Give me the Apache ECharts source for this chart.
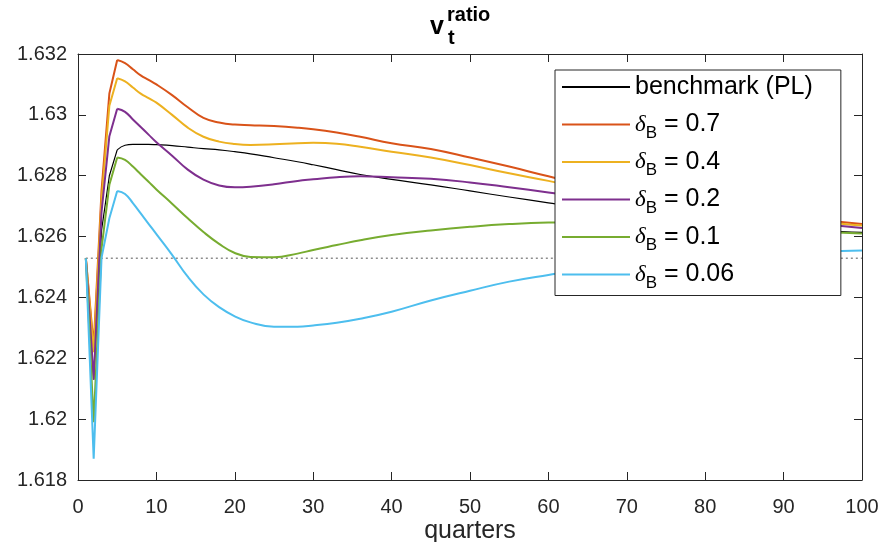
<!DOCTYPE html>
<html><head><meta charset="utf-8">
<script src="https://cdn.jsdelivr.net/npm/echarts/dist/echarts.min.js"></script>
<style>html,body{margin:0;padding:0;background:#fff}#c{width:884px;height:542px}</style>
</head><body><div id="c"></div>
<script>
// sample quarters (x positions of read values)
const quarters = [1,2,3,4,5,6,7,8,9,10,12,14,16,18,20,22,25,28,30,33,36,40,45,50,55,60,65,70,75,80,85,90,95,100];
const benchmark = [1.62529,1.6213,1.6262,1.6280,1.62885,1.62900,1.62903,1.62903,1.62903,1.62902,1.62899,1.62894,1.62889,1.62885,1.62879,1.62872,1.62859,1.62846,1.62836,1.62820,1.62804,1.62788,1.62770,1.62750,1.62730,1.62711,1.62693,1.62677,1.62662,1.62650,1.62638,1.62628,1.62620,1.62614];
const deltaB07 = [1.62529,1.6224,1.6275,1.6307,1.6318,1.6317,1.6315,1.6313,1.63115,1.6310,1.63065,1.63025,1.6299,1.62975,1.62968,1.62966,1.62963,1.62958,1.62953,1.62942,1.62928,1.62907,1.62888,1.6286,1.6283,1.62798,1.62768,1.62742,1.6272,1.62702,1.62685,1.62668,1.62654,1.62641];
const deltaB04 = [1.62529,1.6222,1.6272,1.6303,1.6312,1.6311,1.6309,1.6307,1.63055,1.6304,1.63,1.62958,1.62928,1.62912,1.62904,1.62901,1.62903,1.62907,1.62908,1.62905,1.62895,1.62879,1.6286,1.62835,1.62808,1.62783,1.62755,1.6273,1.6271,1.62692,1.62677,1.62662,1.62648,1.62636];
const deltaB02 = [1.62529,1.6213,1.6268,1.6293,1.6302,1.6301,1.62985,1.6296,1.62935,1.6291,1.62866,1.6282,1.62787,1.62768,1.62762,1.62764,1.62772,1.62783,1.62788,1.62795,1.62798,1.62795,1.6279,1.62778,1.62762,1.62745,1.62728,1.62712,1.62697,1.62684,1.6267,1.62655,1.62641,1.62628];
const deltaB01 = [1.62529,1.6199,1.6256,1.6277,1.6286,1.62852,1.6283,1.62805,1.6278,1.62755,1.62708,1.6266,1.62615,1.62576,1.62546,1.62533,1.62532,1.62544,1.62556,1.62572,1.62588,1.62605,1.6262,1.62632,1.62641,1.62646,1.62647,1.62645,1.6264,1.62634,1.62628,1.62621,1.62615,1.6261];
const deltaB006 = [1.62529,1.6187,1.6253,1.6266,1.6275,1.6274,1.6271,1.62676,1.62642,1.62608,1.6254,1.62468,1.6241,1.62368,1.62338,1.62318,1.62304,1.62304,1.62308,1.62317,1.6233,1.62353,1.6239,1.62422,1.62452,1.62474,1.62494,1.6251,1.62522,1.62532,1.6254,1.62547,1.62551,1.62554];
const steadyState = 1.62529;
const baselineX = [1, 100];
const seriesNames = ['benchmark (PL)', 'δB = 0.7', 'δB = 0.4', 'δB = 0.2', 'δB = 0.1', 'δB = 0.06'];
const deltaLabels = ['', '0.7', '0.4', '0.2', '0.1', '0.06'];
const seriesColors = ['#000000', '#D95319', '#EDB120', '#7E2F8E', '#77AC30', '#4DBEEE'];
const xTicks = [0,10,20,30,40,50,60,70,80,90,100];
const yTicks = [1.618,1.62,1.622,1.624,1.626,1.628,1.63,1.632];
const peakQuarter = 5; // sharp corner: impact phase drawn straight, recovery drawn smooth

const FONT = '"Liberation Sans", Arial, sans-serif';
const AX = '#262626';
const seriesValues = [benchmark, deltaB07, deltaB04, deltaB02, deltaB01, deltaB006];

const chart = echarts.init(document.getElementById('c'), null, {renderer: 'canvas'});

const lineSeries = [];
seriesValues.forEach((vals, i) => {
  const pts = quarters.map((q, k) => [q, vals[k]]);
  const base = {
    name: seriesNames[i], type: 'line', xAxisIndex: 0, yAxisIndex: 0,
    symbol: 'none', silent: true, animation: false,
    lineStyle: {color: seriesColors[i], width: i === 0 ? 1.2 : 2},
    itemStyle: {color: seriesColors[i]},
    emphasis: {disabled: true}, z: 2, zlevel: 0
  };
  lineSeries.push(Object.assign({}, base, {data: pts.filter(p => p[0] <= peakQuarter)}));
  lineSeries.push(Object.assign({}, base, {data: pts.filter(p => p[0] >= peakQuarter), smooth: 0.45}));
});

const dotted = {
  name: 'steady state', type: 'line', xAxisIndex: 0, yAxisIndex: 0,
  data: baselineX.map(x => [x, steadyState]),
  symbol: 'none', silent: true, animation: false,
  lineStyle: {color: '#555', width: 1, type: [2, 3]},
  emphasis: {disabled: true}, z: 1
};

const axisCommon = {
  type: 'value',
  axisLine: {show: true, onZero: false, lineStyle: {color: AX, width: 1}},
  axisTick: {show: true, inside: true, length: 8, lineStyle: {color: AX, width: 1}},
  splitLine: {show: false}
};

chart.setOption({
  backgroundColor: '#fff',
  animation: false,
  grid: {left: 78, right: 22, top: 54, bottom: 62, containLabel: false, outerBoundsMode: 'none'},
  xAxis: [
    Object.assign({}, axisCommon, {
      position: 'bottom', min: xTicks[0], max: xTicks[xTicks.length - 1], interval: 10,
      axisLabel: {fontSize: 20, color: AX, fontFamily: FONT, margin: 17, showMinLabel: true, showMaxLabel: true},
      name: 'quarters', nameLocation: 'middle', nameGap: 39, nameMoveOverlap: false,
      nameTextStyle: {fontSize: 25, color: AX, fontFamily: FONT}
    }),
    Object.assign({}, axisCommon, {
      position: 'top', min: xTicks[0], max: xTicks[xTicks.length - 1], interval: 10,
      axisLabel: {show: false}
    })
  ],
  yAxis: [
    Object.assign({}, axisCommon, {
      position: 'left', min: yTicks[0], max: yTicks[yTicks.length - 1], interval: 0.002,
      axisLabel: {fontSize: 20, color: AX, fontFamily: FONT, margin: 11,
        formatter: v => String(+v.toFixed(3)), showMinLabel: true, showMaxLabel: true}
    }),
    Object.assign({}, axisCommon, {
      position: 'right', min: yTicks[0], max: yTicks[yTicks.length - 1], interval: 0.002,
      axisLabel: {show: false}
    })
  ],
  legend: {
    data: seriesNames.map(n => ({name: n, icon: 'rect'})),
    orient: 'vertical', left: 555, top: 70, z: 20, zlevel: 0,
    itemWidth: 68, itemHeight: 2, itemGap: 3.5,
    padding: [0, 28, 4, 7],
    backgroundColor: '#fff', borderColor: AX, borderWidth: 1, borderRadius: 0,
    selectedMode: false,
    formatter: function (name) {
      const i = seriesNames.indexOf(name);
      if (i === 0) return '{n|' + name + '}';
      return '{d|δ}{s|B}{n| = ' + deltaLabels[i] + '}';
    },
    textStyle: {
      color: '#000', fontFamily: FONT, fontSize: 25, lineHeight: 34,
      rich: {
        n: {fontSize: 25, fontFamily: FONT, color: '#000', lineHeight: 34},
        d: {fontSize: 23, fontFamily: '"Liberation Serif", serif', fontStyle: 'italic', color: '#000', lineHeight: 34},
        s: {fontSize: 17, fontFamily: FONT, color: '#000', lineHeight: 17, padding: [17, 0, 0, 0]}
      }
    }
  },
  graphic: [
    {type: 'text', silent: true, style: {text: 'v', x: 430, y: 27, fill: '#000', font: 'bold 25px ' + FONT, textVerticalAlign: 'middle', verticalAlign: 'middle'}},
    {type: 'text', silent: true, style: {text: 'ratio', x: 447, y: 15, fill: '#000', font: 'bold 20px ' + FONT, textVerticalAlign: 'middle', verticalAlign: 'middle'}},
    {type: 'text', silent: true, style: {text: 't', x: 448, y: 38, fill: '#000', font: 'bold 20px ' + FONT, textVerticalAlign: 'middle', verticalAlign: 'middle'}}
  ],
  series: [dotted].concat(lineSeries)
});
</script>
</body></html>
